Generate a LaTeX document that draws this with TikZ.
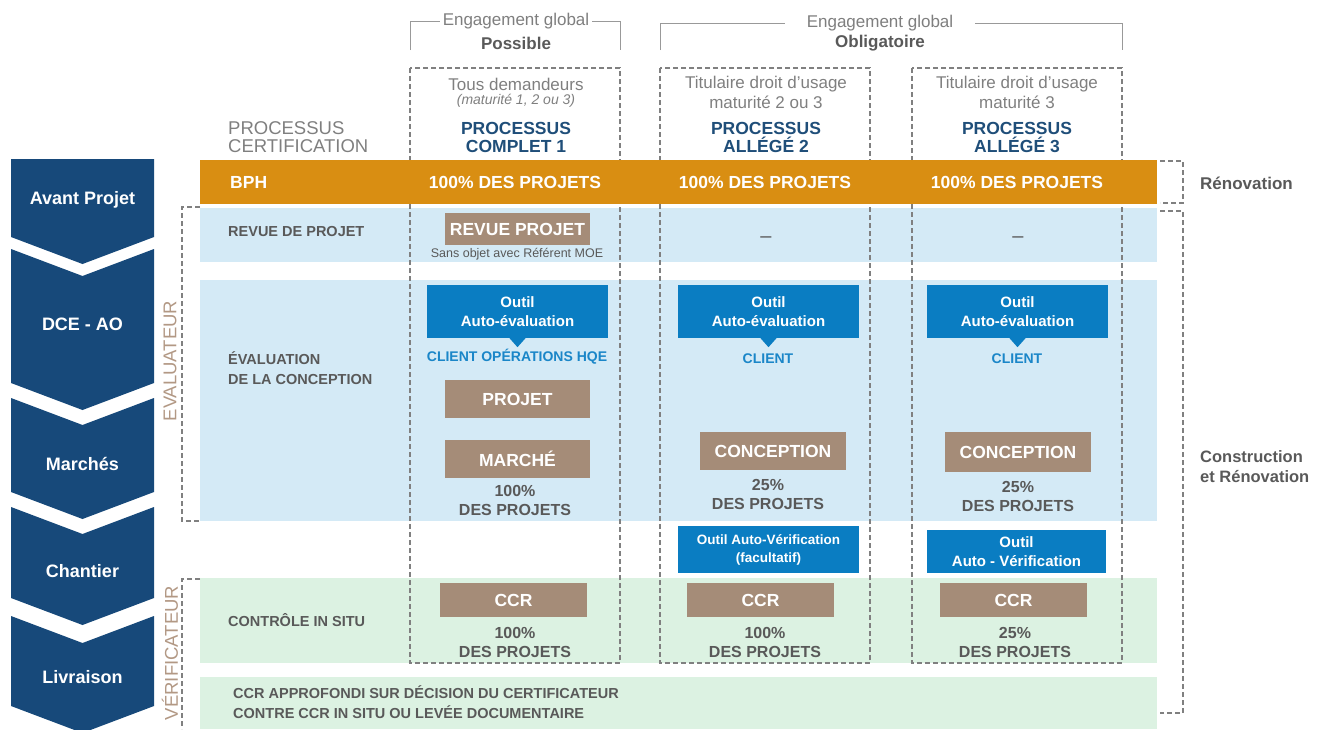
\documentclass[tikz,border=0pt]{standalone}
\usepackage{fontspec}
\setmainfont{Liberation Sans}
\usepackage{xcolor}

\definecolor{chevblue}{RGB}{23,73,122}
\definecolor{bandorange}{RGB}{217,142,18}
\definecolor{rowblue}{RGB}{212,234,246}
\definecolor{rowgreen}{RGB}{220,242,226}
\definecolor{boxtan}{RGB}{165,140,120}
\definecolor{toolblue}{RGB}{10,125,194}
\definecolor{clientblue}{RGB}{26,134,200}
\definecolor{procblue}{RGB}{31,78,121}
\definecolor{txtdark}{RGB}{89,89,89}
\definecolor{txtgray}{RGB}{127,127,127}
\definecolor{linegray}{RGB}{128,128,128}
\definecolor{rolebrown}{RGB}{178,152,132}

\newcommand{\fsz}[2]{\fontsize{#1}{#2}\selectfont}

\begin{document}
\begin{tikzpicture}[x=1pt,y=-1pt,
	steptxt/.style={text=white,font=\fsz{18}{20}\bfseries,inner sep=0pt},
	rowlbl/.style={anchor=west,text=txtdark,font=\fsz{14.5}{20}\bfseries,align=left,inner sep=0pt},
	bandtxt/.style={text=white,font=\fsz{17.5}{20}\bfseries,inner sep=0pt},
	tanbox/.style={fill=boxtan,text=white,font=\fsz{17.5}{20}\bfseries,minimum width=146pt,minimum height=38pt,inner sep=0pt},
	toolbox/.style={fill=toolblue,text=white,font=\fsz{15}{19}\bfseries,align=center,minimum width=181pt,inner sep=0pt},
	clienttxt/.style={text=clientblue,font=\fsz{14}{18}\bfseries,inner sep=0pt},
	pcttxt/.style={text=txtdark,font=\fsz{16}{19}\bfseries,align=center,inner sep=0pt},
	headtxt/.style={text=txtgray,font=\fsz{17}{17}},
	proctxt/.style={text=procblue,font=\fsz{17.5}{18}\bfseries,align=center,inner sep=0pt},
	roletxt/.style={text=rolebrown,font=\fsz{18.5}{20},inner sep=0pt,rotate=90},
	sidetxt/.style={anchor=west,text=txtdark,font=\fsz{16.5}{20}\bfseries,align=left,inner sep=0pt},
	colbox/.style={draw=linegray,line width=1.2pt,dash pattern=on 5pt off 3pt},
	sidebrk/.style={draw=linegray,line width=1.2pt,dash pattern=on 5pt off 3pt},
	topbrk/.style={draw=linegray!80,line width=1pt}]

	\useasboundingbox (0,0) rectangle (1323,729);

	% process steps
	\fill[chevblue] (11,159) -- (154,159) -- (154,237) -- (82.5,264) -- (11,237) -- cycle;
	\fill[chevblue] (11,249) -- (82.5,276) -- (154,249) -- (154,383) -- (82.5,410) -- (11,383) -- cycle;
	\fill[chevblue] (11,398) -- (82.5,425) -- (154,398) -- (154,492) -- (82.5,519) -- (11,492) -- cycle;
	\fill[chevblue] (11,507) -- (82.5,534) -- (154,507) -- (154,598) -- (82.5,625) -- (11,598) -- cycle;
	\fill[chevblue] (11,616) -- (82.5,643) -- (154,616) -- (154,706) -- (82.5,733) -- (11,706) -- cycle;
	\node[steptxt] (avp) at (82.5,200) {Avant Projet};
	\node[steptxt] (dce) at (82.5,324) {DCE - AO};
	\node[steptxt] (mar) at (82.5,464) {Marchés};
	\node[steptxt] (cha) at (82.5,571) {Chantier};
	\node[steptxt] (liv) at (82.5,677) {Livraison};

	% rows
	\fill[rowblue] (200,208) rectangle (1157,262);
	\fill[rowblue] (200,280) rectangle (1157,521);
	\fill[rowgreen] (200,578) rectangle (1157,663);
	\fill[rowgreen] (200,677) rectangle (1157,729);

	% process columns
	\draw[colbox] (410,68) rectangle (620,663);
	\draw[colbox] (660,68) rectangle (870,663);
	\draw[colbox] (912,68) rectangle (1122,663);

	% BPH band
	\fill[bandorange] (200,160) rectangle (1157,204);
	\node[bandtxt,anchor=west] (bph) at (230,182) {BPH};
	\node[bandtxt] (bph1) at (515,182) {100\% DES PROJETS};
	\node[bandtxt] (bph2) at (765,182) {100\% DES PROJETS};
	\node[bandtxt] (bph3) at (1017,182) {100\% DES PROJETS};

	% global commitment
	\draw[topbrk] (410,50) |- (620,21) -- (620,50);
	\node[headtxt,fill=white,inner xsep=3pt,inner ysep=1pt] (eng1) at (516,21) {Engagement global};
	\node[text=txtdark,font=\fsz{17}{17}\bfseries,inner sep=0pt] (poss) at (516,43) {Possible};
	\draw[topbrk] (660,50) |- (1122,23) -- (1122,50);
	\node[headtxt,fill=white,inner xsep=22pt,inner ysep=1pt] (eng2) at (880,23) {Engagement global};
	\node[text=txtdark,font=\fsz{17}{17}\bfseries,inner sep=0pt] (obl) at (880,43) {Obligatoire};

	% column headers
	\node[text=txtgray,font=\fsz{18.5}{18},anchor=west,align=left,inner sep=0pt] (pcert) at (228,137) {PROCESSUS\\CERTIFICATION};
	\node[headtxt,inner sep=0pt] (hd1) at (516,84) {Tous demandeurs};
	\node[text=txtgray,font=\fsz{14}{14}\itshape,inner sep=0pt] (hd1b) at (516,101) {(maturité 1, 2 ou 3)};
	\node[proctxt] (pr1) at (516,137) {PROCESSUS\\COMPLET 1};
	\node[headtxt,inner sep=0pt] (hd2) at (766,84) {Titulaire droit d’usage};
	\node[headtxt,inner sep=0pt] (hd2b) at (766,102) {maturité 2 ou 3};
	\node[proctxt] (pr2) at (766,137) {PROCESSUS\\ALLÉGÉ 2};
	\node[headtxt,inner sep=0pt] (hd3) at (1017,84) {Titulaire droit d’usage};
	\node[headtxt,inner sep=0pt] (hd3b) at (1017,102) {maturité 3};
	\node[proctxt] (pr3) at (1017,137) {PROCESSUS\\ALLÉGÉ 3};

	% row labels
	\node[rowlbl] (lrev) at (228,232) {REVUE DE PROJET};
	\node[rowlbl] (leval) at (228,368) {ÉVALUATION\\DE LA CONCEPTION};
	\node[rowlbl] (lctrl) at (228,620) {CONTRÔLE IN SITU};
	\node[rowlbl] (lccr) at (233,702) {CCR APPROFONDI SUR DÉCISION DU CERTIFICATEUR\\CONTRE CCR IN SITU OU LEVÉE DOCUMENTAIRE};

	% evaluator / verifier
	\draw[sidebrk] (200,207) -| (182,521) -- (200,521);
	\node[roletxt] (evalr) at (170,361) {EVALUATEUR};
	\draw[sidebrk] (200,579) -| (182,729);
	\node[roletxt] (verif) at (170,653) {VÉRIFICATEUR};

	% project scope
	\draw[sidebrk] (1160,161) -| (1183,203) -- (1160,203);
	\node[sidetxt,font=\fsz{17}{20}\bfseries] (reno) at (1200,183) {Rénovation};
	\draw[sidebrk] (1160,211) -| (1183,713) -- (1160,713);
	\node[sidetxt] (constr) at (1200,467) {Construction\\et Rénovation};

	% complete process 1
	\node[tanbox,minimum width=145pt,minimum height=32pt] (rev1) at (517.5,229) {REVUE PROJET};
	\node[text=txtdark,font=\fsz{12.5}{14},inner sep=0pt] (sans1) at (517,254) {Sans objet avec Référent MOE};
	\node[toolbox,minimum height=53pt] (tool1) at (517.5,311.5) {Outil\\Auto-évaluation};
	\fill[toolblue] ([xshift=-8pt]tool1.south) -- ([yshift=-9pt]tool1.south) -- ([xshift=8pt]tool1.south) -- cycle;
	\node[clienttxt] (cli1) at (517,357) {CLIENT OPÉRATIONS HQE};
	\node[tanbox,minimum width=145pt] (proj1) at (517.5,399) {PROJET};
	\node[tanbox,minimum width=145pt] (march1) at (517.5,459) {MARCHÉ};
	\node[pcttxt] (pm1) at (515,500) {100\%\\DES PROJETS};
	\node[tanbox,minimum width=147pt,minimum height=34pt] (ccr1) at (513.5,600) {CCR};
	\node[pcttxt] (pc1) at (515,642) {100\%\\DES PROJETS};

	% light process 2
	\node[text=txtdark,font=\fsz{20}{20}] (dash2) at (766,240) {–};
	\node[toolbox,minimum height=53pt] (tool2) at (768.5,311.5) {Outil\\Auto-évaluation};
	\fill[toolblue] ([xshift=-8pt]tool2.south) -- ([yshift=-9pt]tool2.south) -- ([xshift=8pt]tool2.south) -- cycle;
	\node[clienttxt] (cli2) at (768,359) {CLIENT};
	\node[tanbox] (conc2) at (773,451) {CONCEPTION};
	\node[pcttxt] (pm2) at (768,494) {25\%\\DES PROJETS};
	\node[toolbox,font=\fsz{13.5}{18}\bfseries,minimum height=47pt] (ver2) at (768.5,549.5) {Outil Auto-Vérification\\(facultatif)};
	\node[tanbox,minimum width=147pt,minimum height=34pt] (ccr2) at (760.5,600) {CCR};
	\node[pcttxt] (pc2) at (765,642) {100\%\\DES PROJETS};

	% light process 3
	\node[text=txtdark,font=\fsz{20}{20}] (dash3) at (1018,240) {–};
	\node[toolbox,minimum height=53pt] (tool3) at (1017.5,311.5) {Outil\\Auto-évaluation};
	\fill[toolblue] ([xshift=-8pt]tool3.south) -- ([yshift=-9pt]tool3.south) -- ([xshift=8pt]tool3.south) -- cycle;
	\node[clienttxt] (cli3) at (1017,359) {CLIENT};
	\node[tanbox,minimum height=40pt] (conc3) at (1018,452) {CONCEPTION};
	\node[pcttxt] (pm3) at (1018,496) {25\%\\DES PROJETS};
	\node[toolbox,minimum width=179pt,minimum height=43pt] (ver3) at (1016.5,551.5) {Outil\\Auto - Vérification};
	\node[tanbox,minimum width=147pt,minimum height=34pt] (ccr3) at (1013.5,600) {CCR};
	\node[pcttxt] (pc3) at (1015,642) {25\%\\DES PROJETS};

\end{tikzpicture}
\end{document}
